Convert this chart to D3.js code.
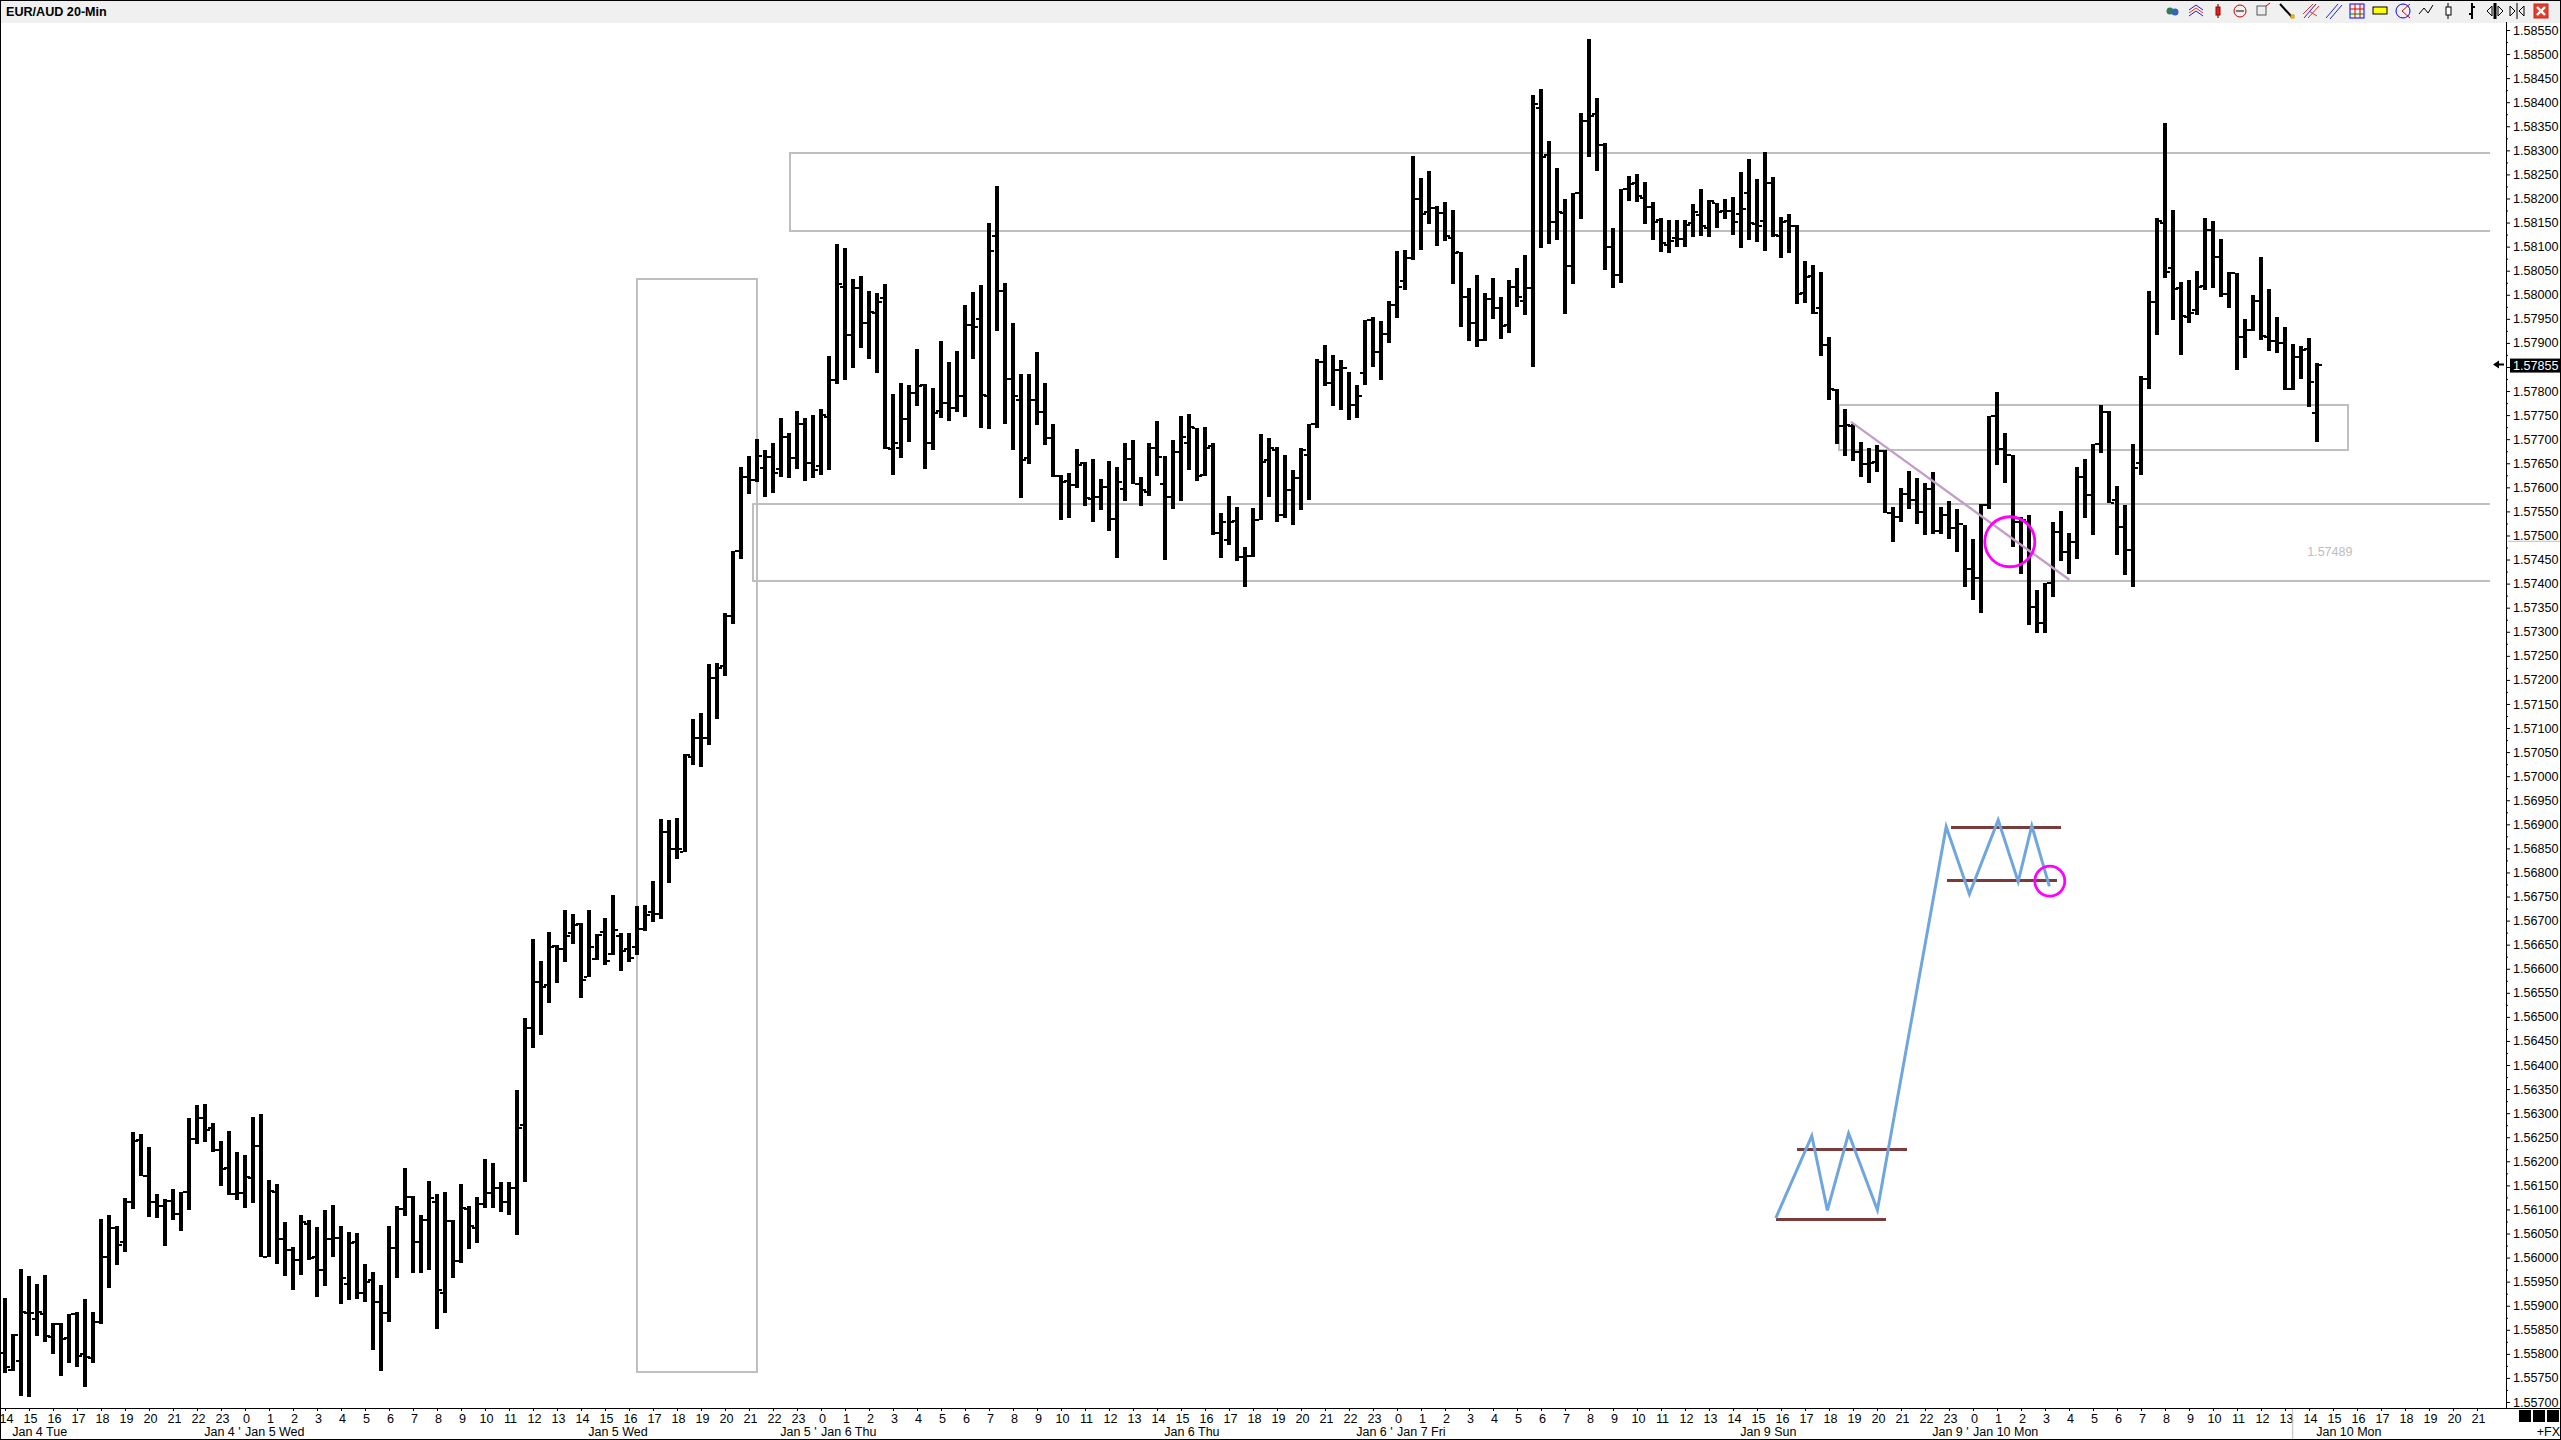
<!DOCTYPE html>
<html>
<head>
<meta charset="utf-8">
<title>EUR/AUD 20-Min</title>
<script src="https://cdnjs.cloudflare.com/ajax/libs/d3/7.8.5/d3.min.js"></script>
<style>
html,body{margin:0;padding:0;background:#fff;overflow:hidden}
svg{display:block}
text{font-family:"Liberation Sans",Arial,sans-serif;fill:#000}
</style>
</head>
<body>
<script>
const chartTitle = "EUR/AUD 20-Min";
const high = [1.55916,1.55841,1.55976,1.55961,1.55945,1.55963,1.55864,1.55864,1.55883,1.55887,
1.55914,1.55887,1.56080,1.56088,1.56065,1.56123,1.56260,1.56256,1.56229,1.56132,
1.56121,1.56142,1.56136,1.56289,1.56317,1.56318,1.56279,1.56242,1.56262,1.56219,
1.56213,1.56291,1.56298,1.56161,1.56152,1.56074,1.56021,1.56088,1.56078,1.56063,
1.56098,1.56109,1.56065,1.56053,1.56051,1.55986,1.55970,1.55943,1.56065,1.56107,
1.56186,1.56127,1.56088,1.56159,1.56132,1.56136,1.56078,1.56152,1.56107,1.56125,
1.56204,1.56196,1.56157,1.56157,1.56348,1.56497,1.56661,1.56616,1.56676,1.56649,
1.56721,1.56713,1.56694,1.56721,1.56672,1.56705,1.56753,1.56674,1.56674,1.56730,
1.56732,1.56782,1.56912,1.56910,1.56914,1.57046,1.57119,1.57131,1.57233,1.57235,
1.57339,1.57468,1.57642,1.57665,1.57700,1.57678,1.57692,1.57743,1.57712,1.57758,
1.57743,1.57750,1.57762,1.57873,1.58105,1.58097,1.58033,1.58039,1.58008,1.58003,
1.58022,1.57794,1.57817,1.57812,1.57887,1.57815,1.57806,1.57904,1.57861,1.57883,
1.57979,1.58006,1.58020,1.58149,1.58226,1.58024,1.57941,1.57835,1.57835,1.57882,
1.57817,1.57732,1.57625,1.57629,1.57679,1.57652,1.57658,1.57617,1.57654,1.57642,
1.57692,1.57698,1.57621,1.57692,1.57737,1.57665,1.57698,1.57748,1.57752,1.57723,
1.57725,1.57692,1.57546,1.57581,1.57559,1.57476,1.57557,1.57710,1.57702,1.57683,
1.57667,1.57636,1.57682,1.57732,1.57867,1.57896,1.57875,1.57865,1.57840,1.57813,
1.57948,1.57953,1.57945,1.57987,1.58091,1.58093,1.58288,1.58242,1.58257,1.58184,
1.58192,1.58176,1.58088,1.58014,1.58041,1.58003,1.58034,1.57995,1.58030,1.58055,
1.58082,1.58416,1.58427,1.58319,1.58263,1.58198,1.58211,1.58377,1.58531,1.58408,
1.58315,1.58138,1.58219,1.58246,1.58250,1.58234,1.58192,1.58159,1.58155,1.58155,
1.58155,1.58188,1.58219,1.58196,1.58190,1.58198,1.58203,1.58255,1.58282,1.58240,
1.58296,1.58244,1.58162,1.58167,1.58144,1.58070,1.58061,1.58047,1.57912,1.57805,
1.57762,1.57731,1.57695,1.57681,1.57687,1.57677,1.57560,1.57598,1.57633,1.57619,
1.57608,1.57631,1.57560,1.57571,1.57556,1.57521,1.57492,1.57565,1.57749,1.57799,
1.57712,1.57667,1.57539,1.57542,1.57386,1.57401,1.57527,1.57550,1.57506,1.57643,
1.57658,1.57691,1.57772,1.57758,1.57602,1.57563,1.57691,1.57832,1.58008,1.58159,
1.58357,1.58176,1.58026,1.58031,1.58049,1.58159,1.58153,1.58116,1.58047,1.58045,
1.57950,1.57999,1.58078,1.58012,1.57954,1.57933,1.57898,1.57894,1.57910,1.57858];
const low = [1.55760,1.55764,1.55712,1.55710,1.55838,1.55824,1.55799,1.55755,1.55782,1.55772,
1.55732,1.55780,1.55862,1.55936,1.55984,1.56011,1.56100,1.56170,1.56085,1.56083,
1.56025,1.56079,1.56056,1.56098,1.56235,1.56241,1.56220,1.56148,1.56129,1.56119,
1.56104,1.56114,1.56002,1.56002,1.55986,1.55961,1.55932,1.55963,1.55995,1.55919,
1.55942,1.56002,1.55903,1.55911,1.55913,1.55907,1.55809,1.55764,1.55867,1.55957,
1.56087,1.55967,1.55967,1.55975,1.55851,1.55884,1.55957,1.55988,1.56017,1.56031,
1.56102,1.56102,1.56094,1.56089,1.56046,1.56156,1.56436,1.56463,1.56528,1.56571,
1.56615,1.56652,1.56540,1.56582,1.56618,1.56608,1.56629,1.56595,1.56614,1.56629,
1.56679,1.56698,1.56704,1.56779,1.56828,1.56842,1.57023,1.57019,1.57065,1.57119,
1.57208,1.57316,1.57451,1.57587,1.57611,1.57579,1.57589,1.57621,1.57620,1.57638,
1.57614,1.57620,1.57625,1.57635,1.57815,1.57823,1.57847,1.57889,1.57866,1.57837,
1.57679,1.57626,1.57660,1.57695,1.57768,1.57639,1.57677,1.57745,1.57737,1.57756,
1.57747,1.57866,1.57723,1.57722,1.57924,1.57731,1.57677,1.57578,1.57648,1.57729,
1.57687,1.57621,1.57533,1.57537,1.57598,1.57562,1.57529,1.57552,1.57510,1.57454,
1.57572,1.57606,1.57562,1.57583,1.57624,1.57449,1.57554,1.57572,1.57635,1.57613,
1.57623,1.57502,1.57454,1.57481,1.57446,1.57394,1.57456,1.57532,1.57579,1.57527,
1.57536,1.57522,1.57553,1.57574,1.57723,1.57811,1.57769,1.57761,1.57740,1.57744,
1.57813,1.57851,1.57823,1.57900,1.57951,1.58009,1.58072,1.58094,1.58146,1.58102,
1.58111,1.58023,1.57934,1.57905,1.57891,1.57905,1.57949,1.57909,1.57920,1.57974,
1.57959,1.57851,1.58098,1.58106,1.58113,1.57961,1.58023,1.58158,1.58287,1.58258,
1.58052,1.58015,1.58025,1.58194,1.58192,1.58146,1.58113,1.58088,1.58086,1.58100,
1.58100,1.58121,1.58123,1.58121,1.58138,1.58158,1.58125,1.58098,1.58113,1.58109,
1.58090,1.58121,1.58077,1.58086,1.57980,1.57982,1.57961,1.57872,1.57781,1.57691,
1.57665,1.57655,1.57622,1.57608,1.57632,1.57546,1.57487,1.57527,1.57556,1.57523,
1.57502,1.57504,1.57504,1.57493,1.57466,1.57392,1.57367,1.57338,1.57556,1.57647,
1.57610,1.57477,1.57419,1.57315,1.57298,1.57298,1.57372,1.57448,1.57421,1.57452,
1.57537,1.57502,1.57672,1.57567,1.57459,1.57417,1.57392,1.57626,1.57804,1.57916,
1.58034,1.57947,1.57874,1.57941,1.57959,1.58010,1.58014,1.57995,1.57972,1.57843,
1.57868,1.57925,1.57906,1.57883,1.57880,1.57802,1.57802,1.57825,1.57766,1.57695];
const open = [1.55802,1.55766,1.55786,1.55885,1.55873,1.55883,1.55836,1.55863,1.55833,1.55883,
1.55800,1.55791,1.55867,1.56002,1.56062,1.56033,1.56115,1.56244,1.56170,1.56116,
1.56107,1.56118,1.56090,1.56136,1.56246,1.56289,1.56270,1.56224,1.56186,1.56132,
1.56135,1.56166,1.56231,1.56002,1.56137,1.56038,1.56016,1.55995,1.56070,1.56002,
1.55975,1.56038,1.56041,1.55945,1.56033,1.55926,1.55954,1.55907,1.55885,1.56020,
1.56101,1.56125,1.56033,1.56078,1.56116,1.55926,1.56076,1.55993,1.56101,1.56061,
1.56111,1.56134,1.56144,1.56115,1.56144,1.56276,1.56476,1.56572,1.56566,1.56648,
1.56641,1.56675,1.56693,1.56583,1.56621,1.56677,1.56631,1.56667,1.56640,1.56646,
1.56682,1.56717,1.56713,1.56883,1.56848,1.56843,1.57040,1.57079,1.57079,1.57204,
1.57228,1.57332,1.57468,1.57621,1.57615,1.57641,1.57662,1.57638,1.57704,1.57660,
1.57732,1.57651,1.57644,1.57747,1.57822,1.58016,1.57917,1.58014,1.57941,1.57962,
1.57993,1.57680,1.57682,1.57742,1.57796,1.57812,1.57692,1.57758,1.57775,1.57765,
1.57790,1.57938,1.57949,1.57790,1.58122,1.58008,1.57824,1.57781,1.57661,1.57782,
1.57756,1.57702,1.57624,1.57613,1.57605,1.57650,1.57575,1.57579,1.57600,1.57534,
1.57597,1.57659,1.57607,1.57591,1.57681,1.57607,1.57579,1.57673,1.57693,1.57723,
1.57626,1.57685,1.57505,1.57491,1.57531,1.57456,1.57458,1.57532,1.57657,1.57678,
1.57543,1.57595,1.57620,1.57667,1.57732,1.57860,1.57817,1.57844,1.57848,1.57771,
1.57838,1.57948,1.57882,1.57919,1.57978,1.58028,1.58077,1.58199,1.58171,1.58180,
1.58169,1.58117,1.58088,1.57996,1.57942,1.57906,1.57992,1.57972,1.57938,1.58016,
1.57988,1.58014,1.58387,1.58290,1.58152,1.58169,1.58060,1.58211,1.58360,1.58376,
1.58311,1.58099,1.58041,1.58219,1.58232,1.58201,1.58183,1.58156,1.58104,1.58117,
1.58115,1.58149,1.58166,1.58138,1.58190,1.58174,1.58173,1.58168,1.58211,1.58147,
1.58154,1.58233,1.58122,1.58154,1.58143,1.58003,1.58038,1.57972,1.57896,1.57803,
1.57727,1.57727,1.57674,1.57648,1.57652,1.57675,1.57547,1.57539,1.57587,1.57574,
1.57549,1.57596,1.57509,1.57542,1.57515,1.57524,1.57430,1.57411,1.57563,1.57749,
1.57680,1.57667,1.57529,1.57529,1.57351,1.57318,1.57401,1.57507,1.57466,1.57487,
1.57622,1.57584,1.57690,1.57757,1.57574,1.57518,1.57470,1.57650,1.57826,1.57986,
1.58150,1.58056,1.58014,1.57954,1.57969,1.58019,1.58135,1.58078,1.58002,1.58045,
1.57912,1.57926,1.57988,1.57912,1.57903,1.57900,1.57804,1.57870,1.57887,1.57754];
const close = [1.55772,1.55840,1.55886,1.55885,1.55886,1.55838,1.55863,1.55831,1.55883,1.55795,
1.55793,1.55867,1.56002,1.56062,1.56026,1.56115,1.56242,1.56170,1.56116,1.56107,
1.56118,1.56090,1.56136,1.56246,1.56289,1.56265,1.56224,1.56184,1.56132,1.56135,
1.56168,1.56231,1.56002,1.56139,1.56038,1.56016,1.55995,1.56073,1.56000,1.55975,
1.56038,1.56041,1.55957,1.56030,1.55926,1.55950,1.55907,1.55885,1.56020,1.56101,
1.56125,1.56033,1.56078,1.56123,1.55932,1.56076,1.55993,1.56104,1.56065,1.56111,
1.56134,1.56144,1.56115,1.56144,1.56269,1.56476,1.56572,1.56563,1.56646,1.56641,
1.56667,1.56690,1.56577,1.56646,1.56670,1.56616,1.56681,1.56637,1.56622,1.56682,
1.56712,1.56713,1.56883,1.56848,1.56848,1.57044,1.57079,1.57079,1.57204,1.57224,
1.57332,1.57468,1.57621,1.57615,1.57665,1.57662,1.57629,1.57704,1.57660,1.57732,
1.57651,1.57636,1.57750,1.57822,1.58023,1.57917,1.58014,1.57941,1.57964,1.57984,
1.57682,1.57692,1.57742,1.57796,1.57810,1.57692,1.57754,1.57775,1.57765,1.57789,
1.57938,1.57934,1.57792,1.58090,1.58008,1.57825,1.57790,1.57657,1.57782,1.57756,
1.57702,1.57624,1.57611,1.57605,1.57647,1.57577,1.57579,1.57600,1.57534,1.57612,
1.57659,1.57607,1.57595,1.57681,1.57664,1.57579,1.57673,1.57705,1.57725,1.57624,
1.57681,1.57505,1.57527,1.57527,1.57455,1.57458,1.57532,1.57653,1.57681,1.57543,
1.57595,1.57620,1.57678,1.57732,1.57860,1.57817,1.57844,1.57848,1.57771,1.57790,
1.57948,1.57882,1.57919,1.57978,1.58017,1.58077,1.58199,1.58168,1.58180,1.58169,
1.58123,1.58086,1.57996,1.57942,1.57906,1.57992,1.57972,1.57936,1.58016,1.57996,
1.58014,1.58396,1.58287,1.58152,1.58171,1.58060,1.58211,1.58360,1.58371,1.58311,
1.58099,1.58041,1.58219,1.58230,1.58205,1.58183,1.58152,1.58107,1.58111,1.58115,
1.58145,1.58171,1.58142,1.58194,1.58171,1.58173,1.58152,1.58178,1.58149,1.58143,
1.58233,1.58124,1.58152,1.58143,1.58002,1.58037,1.57963,1.57896,1.57804,1.57727,
1.57729,1.57674,1.57648,1.57650,1.57675,1.57547,1.57539,1.57587,1.57574,1.57549,
1.57596,1.57509,1.57542,1.57515,1.57524,1.57430,1.57411,1.57563,1.57749,1.57680,
1.57667,1.57529,1.57532,1.57351,1.57318,1.57401,1.57507,1.57466,1.57487,1.57622,
1.57584,1.57690,1.57757,1.57568,1.57518,1.57470,1.57641,1.57826,1.57986,1.58154,
1.58047,1.58011,1.57955,1.57962,1.58017,1.58135,1.58078,1.58002,1.58045,1.57912,
1.57926,1.57988,1.57914,1.57905,1.57900,1.57804,1.57870,1.57886,1.57818,1.57855];

const hourLabels = [14,15,16,17,18,19,20,21,22,23,
0,1,2,3,4,5,6,7,8,9,10,11,12,13,14,15,16,17,18,19,20,21,22,23,
0,1,2,3,4,5,6,7,8,9,10,11,12,13,14,15,16,17,18,19,20,21,22,23,
0,1,2,3,4,5,6,7,8,9,10,11,12,13,14,15,16,17,18,19,20,21,22,23,
0,1,2,3,4,5,6,7,8,9,10,11,12,13,14,15,16,17,18,19,20,21];
const barsPerHour = 3;
const dateLabels = ["Jan 4 Tue","Jan 4 '","Jan 5 Wed","Jan 5 Wed","Jan 5 '","Jan 6 Thu","Jan 6 Thu","Jan 6 '","Jan 7 Fri","Jan 9 Sun","Jan 9 '","Jan 10 Mon","Jan 10 Mon"];
const dateBars = [0.9,24.9,30,72.9,96.9,102,144.9,168.9,174,216.9,240.9,246,288.9];
const lastPrice = 1.57855;
const levelPrice = 1.57489;
const priceTop = 1.5855, priceBottom = 1.557, priceStep = 0.0005;

// drawn objects: [bar start, bar end, upper price, lower price]
const zoneA = [79.0,94.0,1.58033,1.55763];
const zoneB = [93.45,310.6,1.57565,1.57406];
const zoneC = [98.1,310.6,1.58295,1.58133];
const zoneD = [229.25,292.9,1.57772,1.57678];
const trendBars = [230.75,258.05];
const trendPrices = [1.57736,1.57408];
const zigzagBars = [221.35,225.85,227.8,230.45,234.05,242.65,245.55,249.15,251.65,253.35,255.55];
const zigzagPrices = [1.56082,1.56253,1.56098,1.56258,1.56099,1.56895,1.56755,1.56909,1.56781,1.56897,1.56771];
const levelStart = [221.35,224,242.75,243.2];
const levelEnd = [235.1,237.7,256.45,256.95];
const levelValue = [1.5608,1.56225,1.56784,1.56894];
const circleBars = [250.6,255.6];
const circlePrices = [1.57487,1.56782];
const circleRadius = [25,15];

const W = 2561, H = 1440;
const AXIS_X = 2506, AXIS_Y = 1408, HEAD = 22;
const svg = d3.select("body").append("svg").attr("width",W).attr("height",H).attr("viewBox",`0 0 ${W} ${H}`);
const x = d3.scaleLinear().domain([0,289]).range([5,2317]);
const y = d3.scaleLinear().domain([priceTop,priceBottom]).range([30,1402]);

svg.append("rect").attr("width",W).attr("height",H).attr("fill","#fff");

// grey zones, under the bars
const zoneG = svg.append("g").attr("fill","none").attr("stroke","#bfbfbf").attr("stroke-width",2).attr("shape-rendering","crispEdges");
[zoneA,zoneD].forEach(z=>{
  zoneG.append("rect").attr("x",x(z[0])).attr("y",y(z[2])).attr("width",x(z[1])-x(z[0])).attr("height",y(z[3])-y(z[2]));
});
[zoneB,zoneC].forEach(z=>{
  const p = d3.path();
  p.moveTo(x(z[1]),y(z[2])); p.lineTo(x(z[0]),y(z[2])); p.lineTo(x(z[0]),y(z[3])); p.lineTo(x(z[1]),y(z[3]));
  zoneG.append("path").attr("d",p.toString());
});

// OHLC bars
const bars = d3.range(high.length);
const barG = svg.append("g").attr("fill","#000").attr("shape-rendering","crispEdges");
const bw = 4, tw = 3, th = 2;
barG.selectAll("rect.v").data(bars).join("rect").attr("class","v")
  .attr("x",i=>Math.round(x(i))-bw/2).attr("width",bw)
  .attr("y",i=>Math.round(y(high[i]))).attr("height",i=>Math.max(1,Math.round(y(low[i]))-Math.round(y(high[i]))));
barG.selectAll("rect.o").data(bars).join("rect").attr("class","o")
  .attr("x",i=>Math.round(x(i))-bw/2-tw).attr("width",tw)
  .attr("y",i=>Math.round(y(open[i]))-1).attr("height",th);
barG.selectAll("rect.c").data(bars).join("rect").attr("class","c")
  .attr("x",i=>Math.round(x(i))+bw/2).attr("width",tw)
  .attr("y",i=>Math.round(y(close[i]))-1).attr("height",th);

// drawn objects on top
svg.append("line").attr("x1",x(trendBars[0])).attr("y1",y(trendPrices[0])).attr("x2",x(trendBars[1])).attr("y2",y(trendPrices[1]))
  .attr("stroke","#c39fc8").attr("stroke-width",2.4);
svg.append("g").attr("stroke","#7b3b3b").attr("stroke-width",3).attr("shape-rendering","crispEdges")
  .selectAll("line").data(levelValue).join("line")
  .attr("x1",(d,i)=>x(levelStart[i])).attr("x2",(d,i)=>x(levelEnd[i])).attr("y1",d=>y(d)).attr("y2",d=>y(d));
const zig = d3.line().x((d,i)=>x(zigzagBars[i])).y(d=>y(d));
svg.append("path").attr("d",zig(zigzagPrices)).attr("fill","none").attr("stroke","#6fa6de").attr("stroke-width",3).attr("stroke-linejoin","miter");
svg.append("g").attr("fill","none").attr("stroke","#ff00ff").attr("stroke-width",2.8)
  .selectAll("circle").data(circleBars).join("circle")
  .attr("cx",d=>x(d)).attr("cy",(d,i)=>y(circlePrices[i])).attr("r",(d,i)=>circleRadius[i]);
svg.append("text").attr("x",x(290.6)).attr("y",y(levelPrice)+15).attr("text-anchor","middle")
  .attr("font-size",12.5).style("fill","#bdbdbd").text(d3.format(".5f")(levelPrice));

// header
svg.append("rect").attr("x",0).attr("y",0).attr("width",W).attr("height",HEAD+1).attr("fill","#f0f0f0");
svg.append("text").attr("x",6).attr("y",16).attr("font-size",12.6).attr("font-weight","bold").text(chartTitle);

// price axis
const majorTicks = d3.range(0,Math.round((priceTop-priceBottom)/priceStep)+1).map(k=>priceTop-k*priceStep);
const minorTicks = majorTicks.slice(0,-1).map(v=>v-priceStep/2);
const axisR = d3.axisRight(y).tickValues(majorTicks).tickFormat(d3.format(".5f")).tickSize(4).tickPadding(3);
const gR = svg.append("g").attr("transform",`translate(${AXIS_X},0)`).call(axisR);
gR.select(".domain").remove();
gR.selectAll("text").attr("font-size",12.6).attr("font-family",'"Liberation Sans",Arial,sans-serif').style("fill","#000");
const axisR2 = d3.axisRight(y).tickValues(minorTicks).tickFormat("").tickSize(2);
const gR2 = svg.append("g").attr("transform",`translate(${AXIS_X},0)`).call(axisR2);
gR2.select(".domain").remove();
svg.append("rect").attr("x",AXIS_X).attr("y",HEAD).attr("width",1).attr("height",AXIS_Y-HEAD).attr("fill","#000");

// time axis
const hourTicks = hourLabels.map((h,k)=>k*barsPerHour);
const axisB = d3.axisBottom(x).tickValues(hourTicks).tickFormat((d,i)=>hourLabels[i]).tickSize(3).tickPadding(3);
const gB = svg.append("g").attr("transform",`translate(0,${AXIS_Y})`).call(axisB);
gB.select(".domain").remove();
gB.selectAll("text").attr("font-size",12.6).attr("dx",1).attr("font-family",'"Liberation Sans",Arial,sans-serif').style("fill","#000");
gB.selectAll(".tick line").attr("stroke","#000");
svg.append("rect").attr("x",0).attr("y",AXIS_Y).attr("width",W).attr("height",1).attr("fill","#000");
svg.append("rect").attr("x",x(285.9)).attr("y",AXIS_Y+1).attr("width",1).attr("height",H-AXIS_Y-2).attr("fill","#bdbdbd");

svg.append("g").selectAll("text").data(dateLabels).join("text")
  .attr("x",(d,i)=>x(dateBars[i])).attr("y",1436).attr("font-size",12.5).text(d=>d);

// last price flag and level mark
svg.append("rect").attr("x",2510).attr("y",y(lastPrice)-6).attr("width",51).attr("height",14).attr("fill","#000");
svg.append("text").attr("x",2513).attr("y",y(lastPrice)+5).attr("font-size",12.6).style("fill","#fff").text(d3.format(".5f")(lastPrice));
svg.append("path").attr("d",`M2493 ${y(lastPrice)} l6 -4 v3 h5 v2 h-5 v3 z`).attr("fill","#000");
svg.append("rect").attr("x",2508).attr("y",y(levelPrice)).attr("width",53).attr("height",1).attr("fill","#bdbdbd");

// corner blocks
[2519,2533,2547].forEach(px=>svg.append("rect").attr("x",px).attr("y",1410).attr("width",12).attr("height",12).attr("fill","#000"));
svg.append("text").attr("x",2560).attr("y",1436).attr("text-anchor","end").attr("font-size",12.5).text("+FX");

// toolbar glyphs
const tb = svg.append("g").attr("fill","none").attr("stroke-width",1);
const seg = (a,b,c,d,col)=>tb.append("line").attr("x1",a).attr("y1",b).attr("x2",c).attr("y2",d).attr("stroke",col);
const box = (a,b,c,d,col,fill)=>tb.append("rect").attr("x",a).attr("y",b).attr("width",c).attr("height",d).attr("stroke",col).attr("fill",fill||"none");
tb.append("circle").attr("cx",2170).attr("cy",11).attr("r",3.5).attr("fill","#2f7d5c");
tb.append("circle").attr("cx",2175).attr("cy",12).attr("r",3.5).attr("fill","#3465b0");
[7,10,13].forEach(v=>tb.append("path").attr("d",`M2189 ${v+3} l7 -5 l7 5`).attr("stroke",v==10?"#d33":"#22c"));
seg(2218,4,2218,18,"#000");box(2216,7,4,8,"#900","#d22");
tb.append("circle").attr("cx",2240).attr("cy",11).attr("r",6).attr("stroke","#c00");seg(2236,11,2244,11,"#000");
box(2257,6,9,9,"#555","#eee");seg(2266,6,2270,3,"#c00");
seg(2280,4,2292,17,"#000").attr("stroke-width",2);box(2291,15,3,3,"#c90","#fc0");
seg(2304,18,2316,4,"#22c");seg(2308,18,2319,6,"#d33");seg(2303,14,2313,4,"#d33");seg(2309,11,2317,16,"#d33");
seg(2326,18,2338,4,"#22c");seg(2330,19,2342,5,"#22c");
box(2350,4,14,14,"#00f");seg(2350,9,2364,9,"#d00");seg(2350,14,2364,14,"#080");seg(2355,4,2355,18,"#d00");seg(2360,4,2360,18,"#d00");
box(2373,7,14,7,"#000","#ff0");
tb.append("circle").attr("cx",2403).attr("cy",11).attr("r",7).attr("stroke","#00f");tb.append("path").attr("d","M2410 4 L2402 11 L2410 18").attr("stroke","#d00");
tb.append("path").attr("d","M2419 14 L2424 8 L2428 13 L2433 5").attr("stroke","#000");
seg(2448,3,2448,19,"#000");box(2446,7,5,8,"#000","#fff");
seg(2472,3,2472,19,"#000").attr("stroke-width",2);seg(2469,14,2472,14,"#000").attr("stroke-width",2);seg(2472,7,2475,7,"#000").attr("stroke-width",2);
seg(2495,3,2495,19,"#000").attr("stroke-width",3);tb.append("path").attr("d","M2492 6 l-5 5 l5 5 z M2498 6 l5 5 l-5 5 z").attr("stroke","#000");
seg(2517,3,2517,19,"#000");tb.append("path").attr("d","M2510 6 l5 5 l-5 5 z M2524 6 l-5 5 l5 5 z").attr("stroke","#000");
box(2534,4,14,14,"#c22","#e0402a");
tb.append("path").attr("d","M2537 7 L2545 15 M2545 7 L2537 15").attr("stroke","#fff").attr("stroke-width",2.4);

// window frame
const frame = svg.append("g").attr("fill","#000");
frame.append("rect").attr("x",0).attr("y",0).attr("width",W).attr("height",1);
frame.append("rect").attr("x",0).attr("y",H-1).attr("width",W).attr("height",1);
frame.append("rect").attr("x",0).attr("y",0).attr("width",1).attr("height",H);
frame.append("rect").attr("x",W-1).attr("y",0).attr("width",1).attr("height",H);
</script>
</body>
</html>
